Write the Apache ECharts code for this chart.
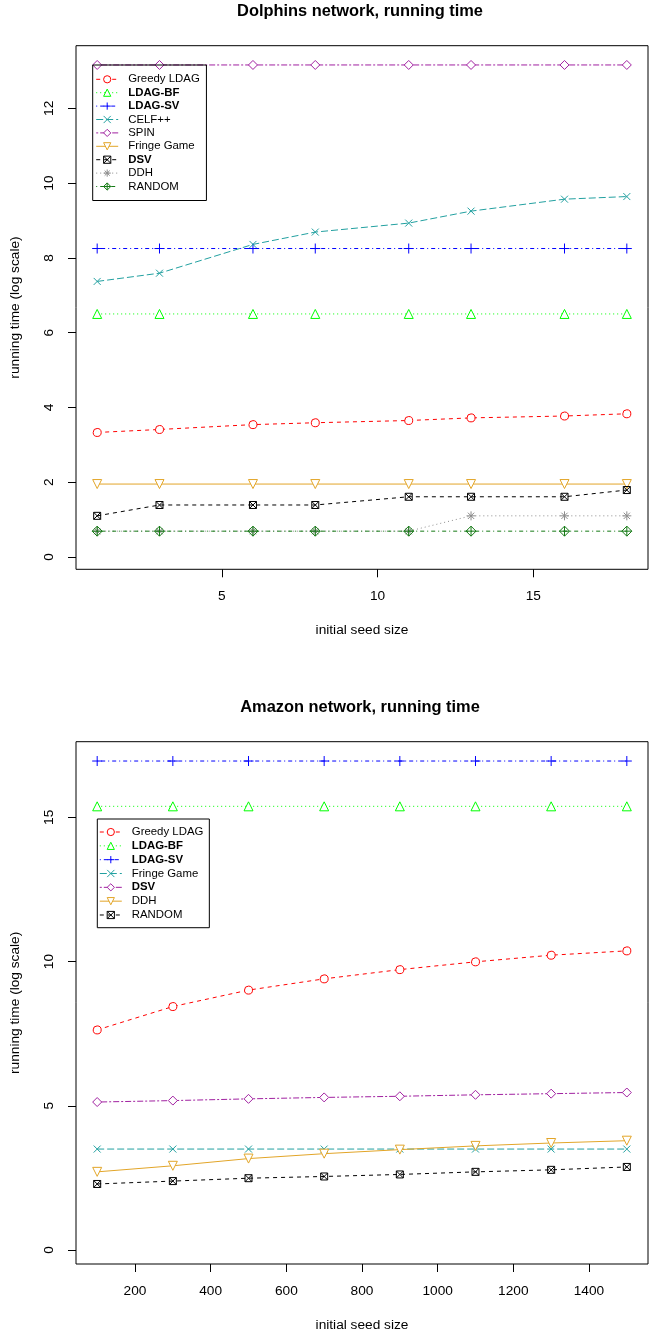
<!DOCTYPE html>
<html><head><meta charset="utf-8">
<script src="https://cdn.jsdelivr.net/npm/echarts@6/dist/echarts.min.js"></script>
<style>
html,body{margin:0;padding:0;background:#fff;}
#c1{position:absolute;left:0;top:0;width:653px;height:668px;}
#c2{position:absolute;left:0;top:668px;width:653px;height:669px;}
</style>
</head><body>
<div id="c1"></div><div id="c2"></div>
<script>
// ---------- Data: Dolphins network ----------
const titleTop = 'Dolphins network, running time';
const xTop = [1, 3, 6, 8, 11, 13, 16, 18];
const xTopTicks = [5, 10, 15];
const yTopTicks = [0, 2, 4, 6, 8, 10, 12];
const greedyTop = [3.33, 3.41, 3.54, 3.59, 3.65, 3.72, 3.77, 3.83];
const ldagBfTop = [6.50, 6.50, 6.50, 6.50, 6.50, 6.50, 6.50, 6.50];
const ldagSvTop = [8.25, 8.25, 8.25, 8.25, 8.25, 8.25, 8.25, 8.25];
const celfTop = [7.37, 7.59, 8.36, 8.69, 8.93, 9.25, 9.57, 9.64];
const spinTop = [13.16, 13.16, 13.16, 13.16, 13.16, 13.16, 13.16, 13.16];
const fringeTop = [1.95, 1.95, 1.95, 1.95, 1.95, 1.95, 1.95, 1.95];
const dsvTop = [1.10, 1.39, 1.39, 1.39, 1.61, 1.61, 1.61, 1.79];
const ddhTop = [0.69, 0.69, 0.69, 0.69, 0.69, 1.10, 1.10, 1.10];
const randomTop = [0.69, 0.69, 0.69, 0.69, 0.69, 0.69, 0.69, 0.69];

// ---------- Data: Amazon network ----------
const titleBot = 'Amazon network, running time';
const xBot = [100, 300, 500, 700, 900, 1100, 1300, 1500];
const xBotTicks = [200, 400, 600, 800, 1000, 1200, 1400];
const yBotTicks = [0, 5, 10, 15];
const greedyBot = [7.63, 8.44, 9.01, 9.40, 9.72, 9.99, 10.22, 10.37];
const ldagBfBot = [15.38, 15.38, 15.38, 15.38, 15.38, 15.38, 15.38, 15.38];
const ldagSvBot = [16.95, 16.95, 16.95, 16.95, 16.95, 16.95, 16.95, 16.95];
const fringeBot = [3.50, 3.50, 3.50, 3.50, 3.50, 3.50, 3.50, 3.50];
const dsvBot = [5.13, 5.18, 5.24, 5.29, 5.33, 5.38, 5.42, 5.46];
const ddhBot = [2.71, 2.92, 3.17, 3.34, 3.48, 3.61, 3.71, 3.79];
const randomBot = [2.29, 2.39, 2.49, 2.55, 2.62, 2.71, 2.78, 2.88];

const xName = 'initial seed size';
const yName = 'running time (log scale)';
const boldNames = ['LDAG-BF', 'LDAG-SV', 'DSV'];

// ---------- Styles ----------
const FONT = '"Liberation Sans", Arial, Helvetica, sans-serif';
const C = {
  red: '#FF0000', green: '#00FF00', blue: '#0000FF', teal: '#22A0A0',
  purple: '#A020A0', orange: '#E2A528', black: '#000000', gray: '#8C8C8C', dgreen: '#157A15'
};
const SYM = {
  circle: 'path://M5,0A5,5,0,1,1,4.999,0Z',
  triUp: 'path://M5,0L10,9L0,9Z',
  triDown: 'path://M0,0L10,0L5,9Z',
  plus: 'path://M5,0L5,10M0,5L10,5',
  cross: 'path://M0,0L10,10M10,0L0,10',
  diamond: 'path://M5,0L10,5L5,10L0,5Z',
  squareX: 'path://M0,0L10,0L10,10L0,10ZM0,0L10,10M10,0L0,10',
  star: 'path://M5,0L5,10M0,5L10,5M1.5,1.5L8.5,8.5M8.5,1.5L1.5,8.5',
  diamondPlus: 'path://M5,0L10,5L5,10L0,5ZM5,0L5,10M0,5L10,5'
};
const LTY = { solid: 'solid', dashed: [4, 4], dotted: [1, 3], dotdash: [1, 3, 4, 3], longdash: [7, 3], twodash: [2, 2, 6, 2] };

function mk(name, xs, ys, color, sym, size, lty, fill) {
  return {
    type: 'line', name: name,
    data: xs.map((x, i) => [x, ys[i]]),
    symbol: sym, symbolSize: size,
    lineStyle: { color: color, width: 1, type: LTY[lty] },
    itemStyle: { color: fill ? '#ffffff' : 'rgba(0,0,0,0)', borderColor: color, borderWidth: 1 },
    animation: false, silent: true
  };
}

function axisCommon() {
  return {
    axisLine: { show: false, onZero: false },
    splitLine: { show: false },
    nameLocation: 'middle',
    nameGap: 54,
    nameTextStyle: { fontSize: 13.7, color: '#000', fontFamily: FONT }
  };
}

function buildOption(cfg) {
  return {
    animation: false,
    title: {
      text: cfg.title, left: 360, top: cfg.titleTop, textAlign: 'center', padding: 0,
      textStyle: { fontSize: 16.4, fontWeight: 'bold', color: '#000', fontFamily: FONT }
    },
    grid: {
      left: 72.5, top: cfg.gridTop, width: 575.5, height: cfg.gridH,
      show: true, borderColor: '#000', borderWidth: 1, backgroundColor: 'transparent'
    },
    xAxis: Object.assign(axisCommon(), {
      type: 'value', min: cfg.xmin, max: cfg.xmax, name: xName,
      axisTick: { show: true, length: 8, lineStyle: { color: '#000' }, customValues: cfg.xTicks },
      axisLabel: { customValues: cfg.xTicks, formatter: v => String(v), margin: 20, fontSize: 13.7, color: '#000', fontFamily: FONT }
    }),
    yAxis: Object.assign(axisCommon(), {
      type: 'value', min: cfg.ymin, max: cfg.ymax, name: yName,
      axisTick: { show: true, length: 8, lineStyle: { color: '#000' }, customValues: cfg.yTicks },
      axisLabel: { customValues: cfg.yTicks, formatter: v => String(v), rotate: 90, margin: 20, fontSize: 13.7, color: '#000', fontFamily: FONT }
    }),
    legend: {
      orient: 'vertical', left: cfg.legLeft, top: cfg.legTop,
      data: cfg.series.map(s => s.name),
      selectedMode: false,
      itemWidth: 22, itemHeight: 9, itemGap: 0,
      padding: cfg.legPad,
      borderColor: '#000', borderWidth: 1, borderRadius: 0,
      itemStyle: { borderWidth: 1 },
      lineStyle: { width: 1 },
      formatter: n => boldNames.includes(n) ? '{b|' + n + '}' : n,
      textStyle: {
        fontSize: 11.4, lineHeight: cfg.legRow, color: '#000', fontFamily: FONT, padding: [0, 0, 0, 5],
        rich: { b: { fontSize: 11.4, lineHeight: cfg.legRow, fontWeight: 'bold', color: '#000', fontFamily: FONT } }
      }
    },
    series: cfg.series
  };
}

const seriesTop = [
  mk('Greedy LDAG', xTop, greedyTop, C.red, SYM.circle, 8, 'dashed', true),
  mk('LDAG-BF', xTop, ldagBfTop, C.green, SYM.triUp, 9, 'dotted', true),
  mk('LDAG-SV', xTop, ldagSvTop, C.blue, SYM.plus, 10, 'dotdash', false),
  mk('CELF++', xTop, celfTop, C.teal, SYM.cross, 7, 'longdash', false),
  mk('SPIN', xTop, spinTop, C.purple, SYM.diamond, 9, 'twodash', true),
  mk('Fringe Game', xTop, fringeTop, C.orange, SYM.triDown, 9, 'solid', true),
  mk('DSV', xTop, dsvTop, C.black, SYM.squareX, 7, 'dashed', false),
  mk('DDH', xTop, ddhTop, C.gray, SYM.star, 9, 'dotted', false),
  mk('RANDOM', xTop, randomTop, C.dgreen, SYM.diamondPlus, 10, 'dotdash', false)
];

const seriesBot = [
  mk('Greedy LDAG', xBot, greedyBot, C.red, SYM.circle, 8, 'dashed', true),
  mk('LDAG-BF', xBot, ldagBfBot, C.green, SYM.triUp, 9, 'dotted', true),
  mk('LDAG-SV', xBot, ldagSvBot, C.blue, SYM.plus, 10, 'dotdash', false),
  mk('Fringe Game', xBot, fringeBot, C.teal, SYM.cross, 7, 'longdash', false),
  mk('DSV', xBot, dsvBot, C.purple, SYM.diamond, 9, 'twodash', true),
  mk('DDH', xBot, ddhBot, C.orange, SYM.triDown, 9, 'solid', true),
  mk('RANDOM', xBot, randomBot, C.black, SYM.squareX, 7, 'dashed', false)
];

const chart1 = echarts.init(document.getElementById('c1'), null, { renderer: 'canvas' });
chart1.setOption(buildOption({
  title: titleTop, titleTop: 3.6,
  gridTop: 45.7, gridH: 523.6,
  xmin: 0.32, xmax: 18.68, xTicks: xTopTicks,
  ymin: -0.33, ymax: 13.675, yTicks: yTopTicks,
  legLeft: 92.7, legTop: 65, legPad: [7.6, 6.7, 7.3, 3], legRow: 13.4,
  series: seriesTop
}));

const chart2 = echarts.init(document.getElementById('c2'), null, { renderer: 'canvas' });
chart2.setOption(buildOption({
  title: titleBot, titleTop: 31.1,
  gridTop: 73.7, gridH: 524,
  xmin: 44, xmax: 1556, xTicks: xBotTicks,
  ymin: -0.484, ymax: 17.62, yTicks: yBotTicks,
  legLeft: 97.3, legTop: 151, legPad: [6.1, 6, 5.8, 2], legRow: 13.83,
  series: seriesBot
}));
</script>
</body></html>
